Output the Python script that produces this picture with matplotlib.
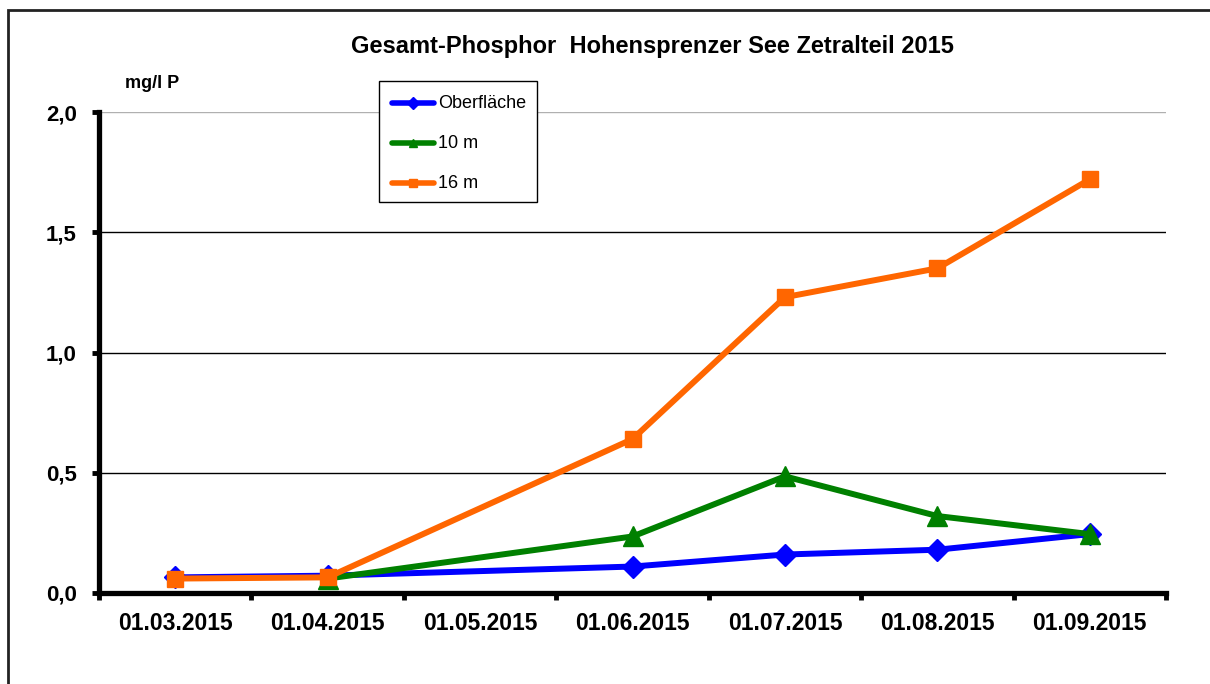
import matplotlib
matplotlib.use("Agg")
import matplotlib.pyplot as plt
from matplotlib.lines import Line2D
from matplotlib.patches import Rectangle
import numpy as np

plt.rcParams['font.family'] = ['Liberation Sans', 'DejaVu Sans']

categories = ["01.03.2015", "01.04.2015", "01.05.2015", "01.06.2015",
              "01.07.2015", "01.08.2015", "01.09.2015"]
y_ticks = [0.0, 0.5, 1.0, 1.5, 2.0]
y_tick_labels = ["0,0", "0,5", "1,0", "1,5", "2,0"]

# index positions of sampled dates (no sample on 01.05.)
ober_x = [0, 1, 3, 4, 5, 6]
ober_y = [0.065, 0.072, 0.11, 0.16, 0.18, 0.245]
m10_x = [1, 3, 4, 5, 6]
m10_y = [0.06, 0.235, 0.485, 0.32, 0.245]
m16_x = [0, 1, 3, 4, 5, 6]
m16_y = [0.06, 0.065, 0.64, 1.23, 1.35, 1.72]

series = [
    ("Oberfläche", ober_x, ober_y, "#0000FF", "D", 11),
    ("10 m", m10_x, m10_y, "#008000", "^", 14),
    ("16 m", m16_x, m16_y, "#FF6600", "s", 12),
]

W, H = 1210, 684
fig = plt.figure(figsize=(W / 100, H / 100), dpi=100)

def fx(px):
    return px / W

def fy(py):
    return 1 - py / H

# outer frame (continues past right and bottom edge)
fig.add_artist(Rectangle((fx(8), fy(720)), fx(1240 - 8), fy(10) - fy(720),
                         transform=fig.transFigure, fill=False,
                         edgecolor="#222222", linewidth=2.0))

ax = fig.add_axes([fx(99), fy(593), fx(1166) - fx(99), fy(112) - fy(593)])
ax.set_xlim(-0.5, len(categories) - 0.5)
ax.set_ylim(0, 2.0)

for v in y_ticks[1:]:
    ax.axhline(v, color="#b0b0b0" if v == 2.0 else "black", linewidth=1.0, zorder=1)

for name, xs, ys, c, m, ms in series:
    ax.plot(xs, ys, color=c, linewidth=4.3, marker=m, markersize=ms,
            markeredgecolor=c, markerfacecolor=c, zorder=3)

for s in ["top", "right"]:
    ax.spines[s].set_visible(False)
for s in ["left", "bottom"]:
    ax.spines[s].set_linewidth(3.8)
    ax.spines[s].set_color("black")

ax.set_yticks(y_ticks)
ax.set_yticklabels(y_tick_labels, fontsize=16, fontweight="bold")
ax.tick_params(axis="y", direction="out", length=5, width=3.5, pad=11)

ax.set_xticks(np.arange(-0.5, len(categories), 1.0))
ax.set_xticklabels([])
ax.set_xticks(np.arange(len(categories)), minor=True)
ax.set_xticklabels(categories, minor=True, fontsize=16.5, fontweight="bold")
ax.tick_params(axis="x", which="major", direction="out", length=5, width=3.5)
ax.tick_params(axis="x", which="minor", length=0, pad=14)

fig.text(fx(652), fy(47), "Gesamt-Phosphor  Hohensprenzer See Zetralteil 2015",
         ha="center", va="center", fontsize=17, fontweight="bold")
fig.text(fx(125), fy(83), "mg/l P", ha="left", va="center",
         fontsize=13, fontweight="bold")

# legend box
fig.add_artist(Rectangle((fx(379), fy(202)), fx(537) - fx(379), fy(81) - fy(202),
                         transform=fig.transFigure, facecolor="white",
                         edgecolor="black", linewidth=1.0, zorder=5))
for i, (name, xs, ys, c, m, ms) in enumerate(series):
    yy = 103 + 40 * i
    fig.add_artist(Line2D([fx(392), fx(434)], [fy(yy), fy(yy)],
                          transform=fig.transFigure, color=c, linewidth=4.0,
                          solid_capstyle="round", zorder=6))
    fig.add_artist(Line2D([fx(413)], [fy(yy)], transform=fig.transFigure,
                          marker=m, markersize=6, color=c, zorder=7))
    fig.text(fx(438), fy(yy), name, ha="left", va="center", fontsize=13,
             zorder=8)

fig.savefig("out.png", dpi=100)
